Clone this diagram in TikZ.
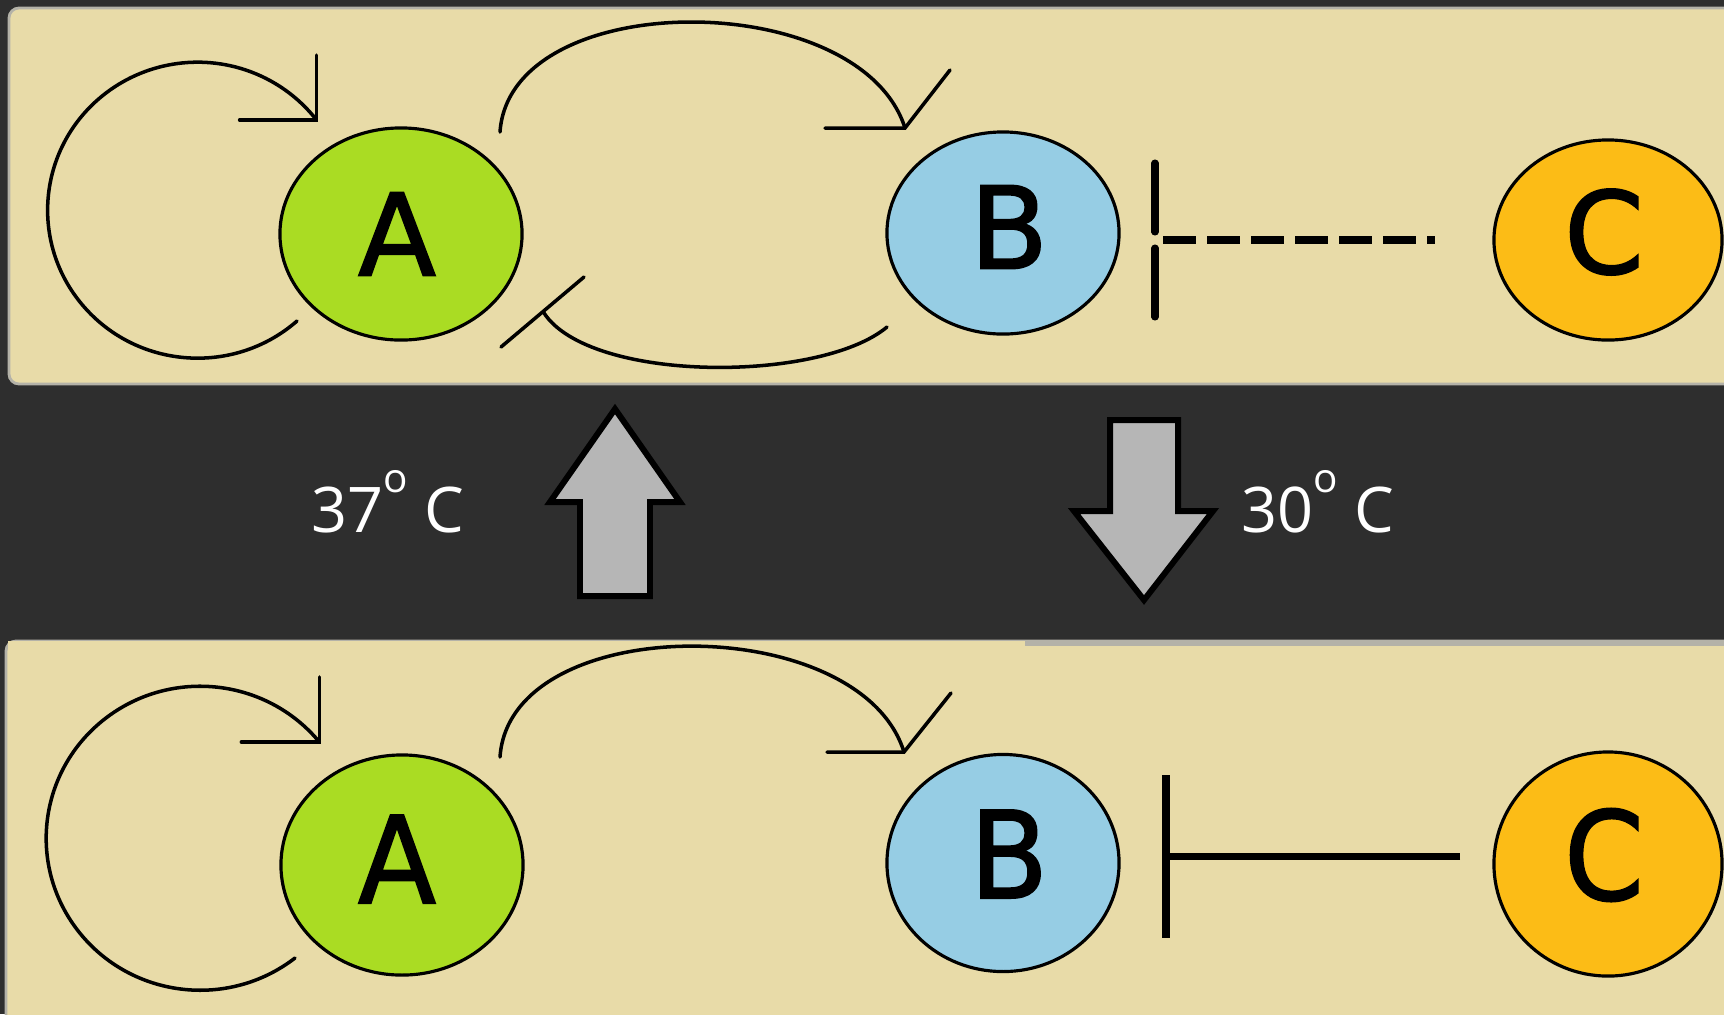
\documentclass[tikz,border=0pt]{standalone}
\usepackage{fontspec}
\usetikzlibrary{shapes.geometric,calc}
\newfontfamily\lettfont[BoldFont={DejaVu Sans}, BoldFeatures={FakeBold=1.6}]{DejaVu Sans}
\newfontfamily\tempfont{Open Sans}
\definecolor{bgdark}{HTML}{2E2E2E}
\definecolor{panel}{HTML}{E8DBA8}
\definecolor{panelrim}{HTML}{B4B2A8}
\definecolor{agreen}{HTML}{AADC23}
\definecolor{bblue}{HTML}{96CDE4}
\definecolor{corange}{HTML}{FCBC16}
\definecolor{arrgray}{HTML}{B6B6B6}
\begin{document}
\begin{tikzpicture}[x=0.01cm,y=-0.01cm,
  species/.style={ellipse, draw=black, line width=0.9pt, inner sep=0pt},
  letter/.style={inner sep=0pt, font=\lettfont\bfseries\fontsize{32.4}{32.4}\selectfont},
  link/.style={draw=black, line width=1pt, line cap=round, line join=miter},
  inhib/.style={draw=black, line width=2pt},
  bigarrow/.style={fill=arrgray, draw=black, line width=1.7pt, line join=miter},
  templabel/.style={text=white, font=\tempfont\fontsize{17.9}{22}\selectfont, anchor=base west, inner sep=0pt}
]
\useasboundingbox (0,0) rectangle (1724,1014);
\clip (0,0) rectangle (1724,1014);
\fill[bgdark] (0,0) rectangle (1724,1014);

% panels
\draw[panelrim, line width=0.8pt, fill=panel, rounded corners=0.1cm] (9,8) rectangle (1760,384);
\draw[panelrim, line width=0.8pt, fill=panel, rounded corners=0.1cm] (6,641) rectangle (1760,1040);
\fill[panel] (8,641) rectangle (1025,648);
\draw[panelrim, line width=1.1pt] (1025,644) -- (1724,644);

% ---------- top panel ----------
\node[species, fill=agreen, minimum width=2.42cm, minimum height=2.12cm] (A1) at (401,234) {};
\node[species, fill=bblue, minimum width=2.32cm, minimum height=2.02cm] (B1) at (1003,233) {};
\node[species, fill=corange, minimum width=2.28cm, minimum height=2.0cm] (C1) at (1608,240) {};
\node[letter] (A1l) at (397,234) {A};
\node[letter] (B1l) at (1009,227) {B};
\node[letter] (C1l) at (1604,232) {C};

% A self activation
\coordinate (L1s) at (297,321);
\draw[link] (L1s) arc[start angle=48.5, end angle=322.5, x radius=150, y radius=148] coordinate (L1t);
\draw[link] (L1t) ++(0,-65) -- (L1t) -- ++(-77,0);

% A -> B activation
\coordinate (AB1s) at (500,132);
\coordinate (AB1t) at (905,128);
\draw[link] (AB1s) .. controls (510,-14) and (860,-14) .. (AB1t);
\draw[link] (AB1t) ++(-80,0) -- (AB1t) -- ++(45,-58);

% B -| A inhibition
\coordinate (BA1s) at (887,327);
\coordinate (BA1t) at (544,313);
\draw[link] (BA1s) .. controls (820,383) and (590,383) .. (BA1t);
\coordinate (BA1b1) at (501,347);
\coordinate (BA1b2) at (584,277);
\draw[link] (BA1b1) -- (BA1b2);

% C -| B dashed inhibition
\coordinate (CB1s) at (1435,240);
\coordinate (CB1t) at (1163,240);
\draw[inhib, dash pattern=on 0.33cm off 0.11cm] (CB1t) -- (CB1s);
\coordinate (CB1u) at (1155,163);
\coordinate (CB1v) at (1155,232);
\coordinate (CB1w) at (1155,248);
\coordinate (CB1x) at (1155,317);
\draw[inhib, line cap=round] (CB1u) -- (CB1v);
\draw[inhib, line cap=round] (CB1w) -- (CB1x);

% ---------- middle band ----------
\draw[bigarrow] (615,409) -- (680,502) -- (650,502) -- (650,596) -- (580,596) -- (580,502) -- (550,502) -- cycle;
\draw[bigarrow] (1144,600) -- (1213,511) -- (1178,511) -- (1178,420) -- (1110,420) -- (1110,511) -- (1074,511) -- cycle;
\node[templabel] (t37) at (311,532) {37\raisebox{0.62em}{\fontsize{11.5}{11.5}\selectfont o} C};
\node[templabel] (t30) at (1241,532) {30\raisebox{0.62em}{\fontsize{11.5}{11.5}\selectfont o} C};

% ---------- bottom panel ----------
\node[species, fill=agreen, minimum width=2.42cm, minimum height=2.2cm] (A2) at (402,865) {};
\node[species, fill=bblue, minimum width=2.32cm, minimum height=2.17cm] (B2) at (1003,863) {};
\node[species, fill=corange, minimum width=2.28cm, minimum height=2.24cm] (C2) at (1608,864) {};
\node[letter] (A2l) at (397,859) {\scalebox{1}[1.06]{A}};
\node[letter] (B2l) at (1009,854) {\scalebox{1}[1.06]{B}};
\node[letter] (C2l) at (1604,855) {\scalebox{1}[1.08]{C}};

% A self activation
\coordinate (L2s) at (295,958);
\draw[link] (L2s) arc[start angle=52, end angle=320.7, x radius=154, y radius=152] coordinate (L2t);
\draw[link] (L2t) ++(0,-65) -- (L2t) -- ++(-78,0);

% A -> B activation
\coordinate (AB2s) at (500,757);
\coordinate (AB2t) at (904,752);
\draw[link] (AB2s) .. controls (510,610) and (860,610) .. (AB2t);
\draw[link] (AB2t) ++(-77,0) -- (AB2t) -- ++(47,-59);

% C -| B solid inhibition
\coordinate (CB2s) at (1460,856);
\coordinate (CB2t) at (1166,856);
\draw[inhib] (CB2s) -- (CB2t);
\coordinate (CB2u) at (1166,775);
\coordinate (CB2v) at (1166,938);
\draw[inhib] (CB2u) -- (CB2v);
\end{tikzpicture}
\end{document}
